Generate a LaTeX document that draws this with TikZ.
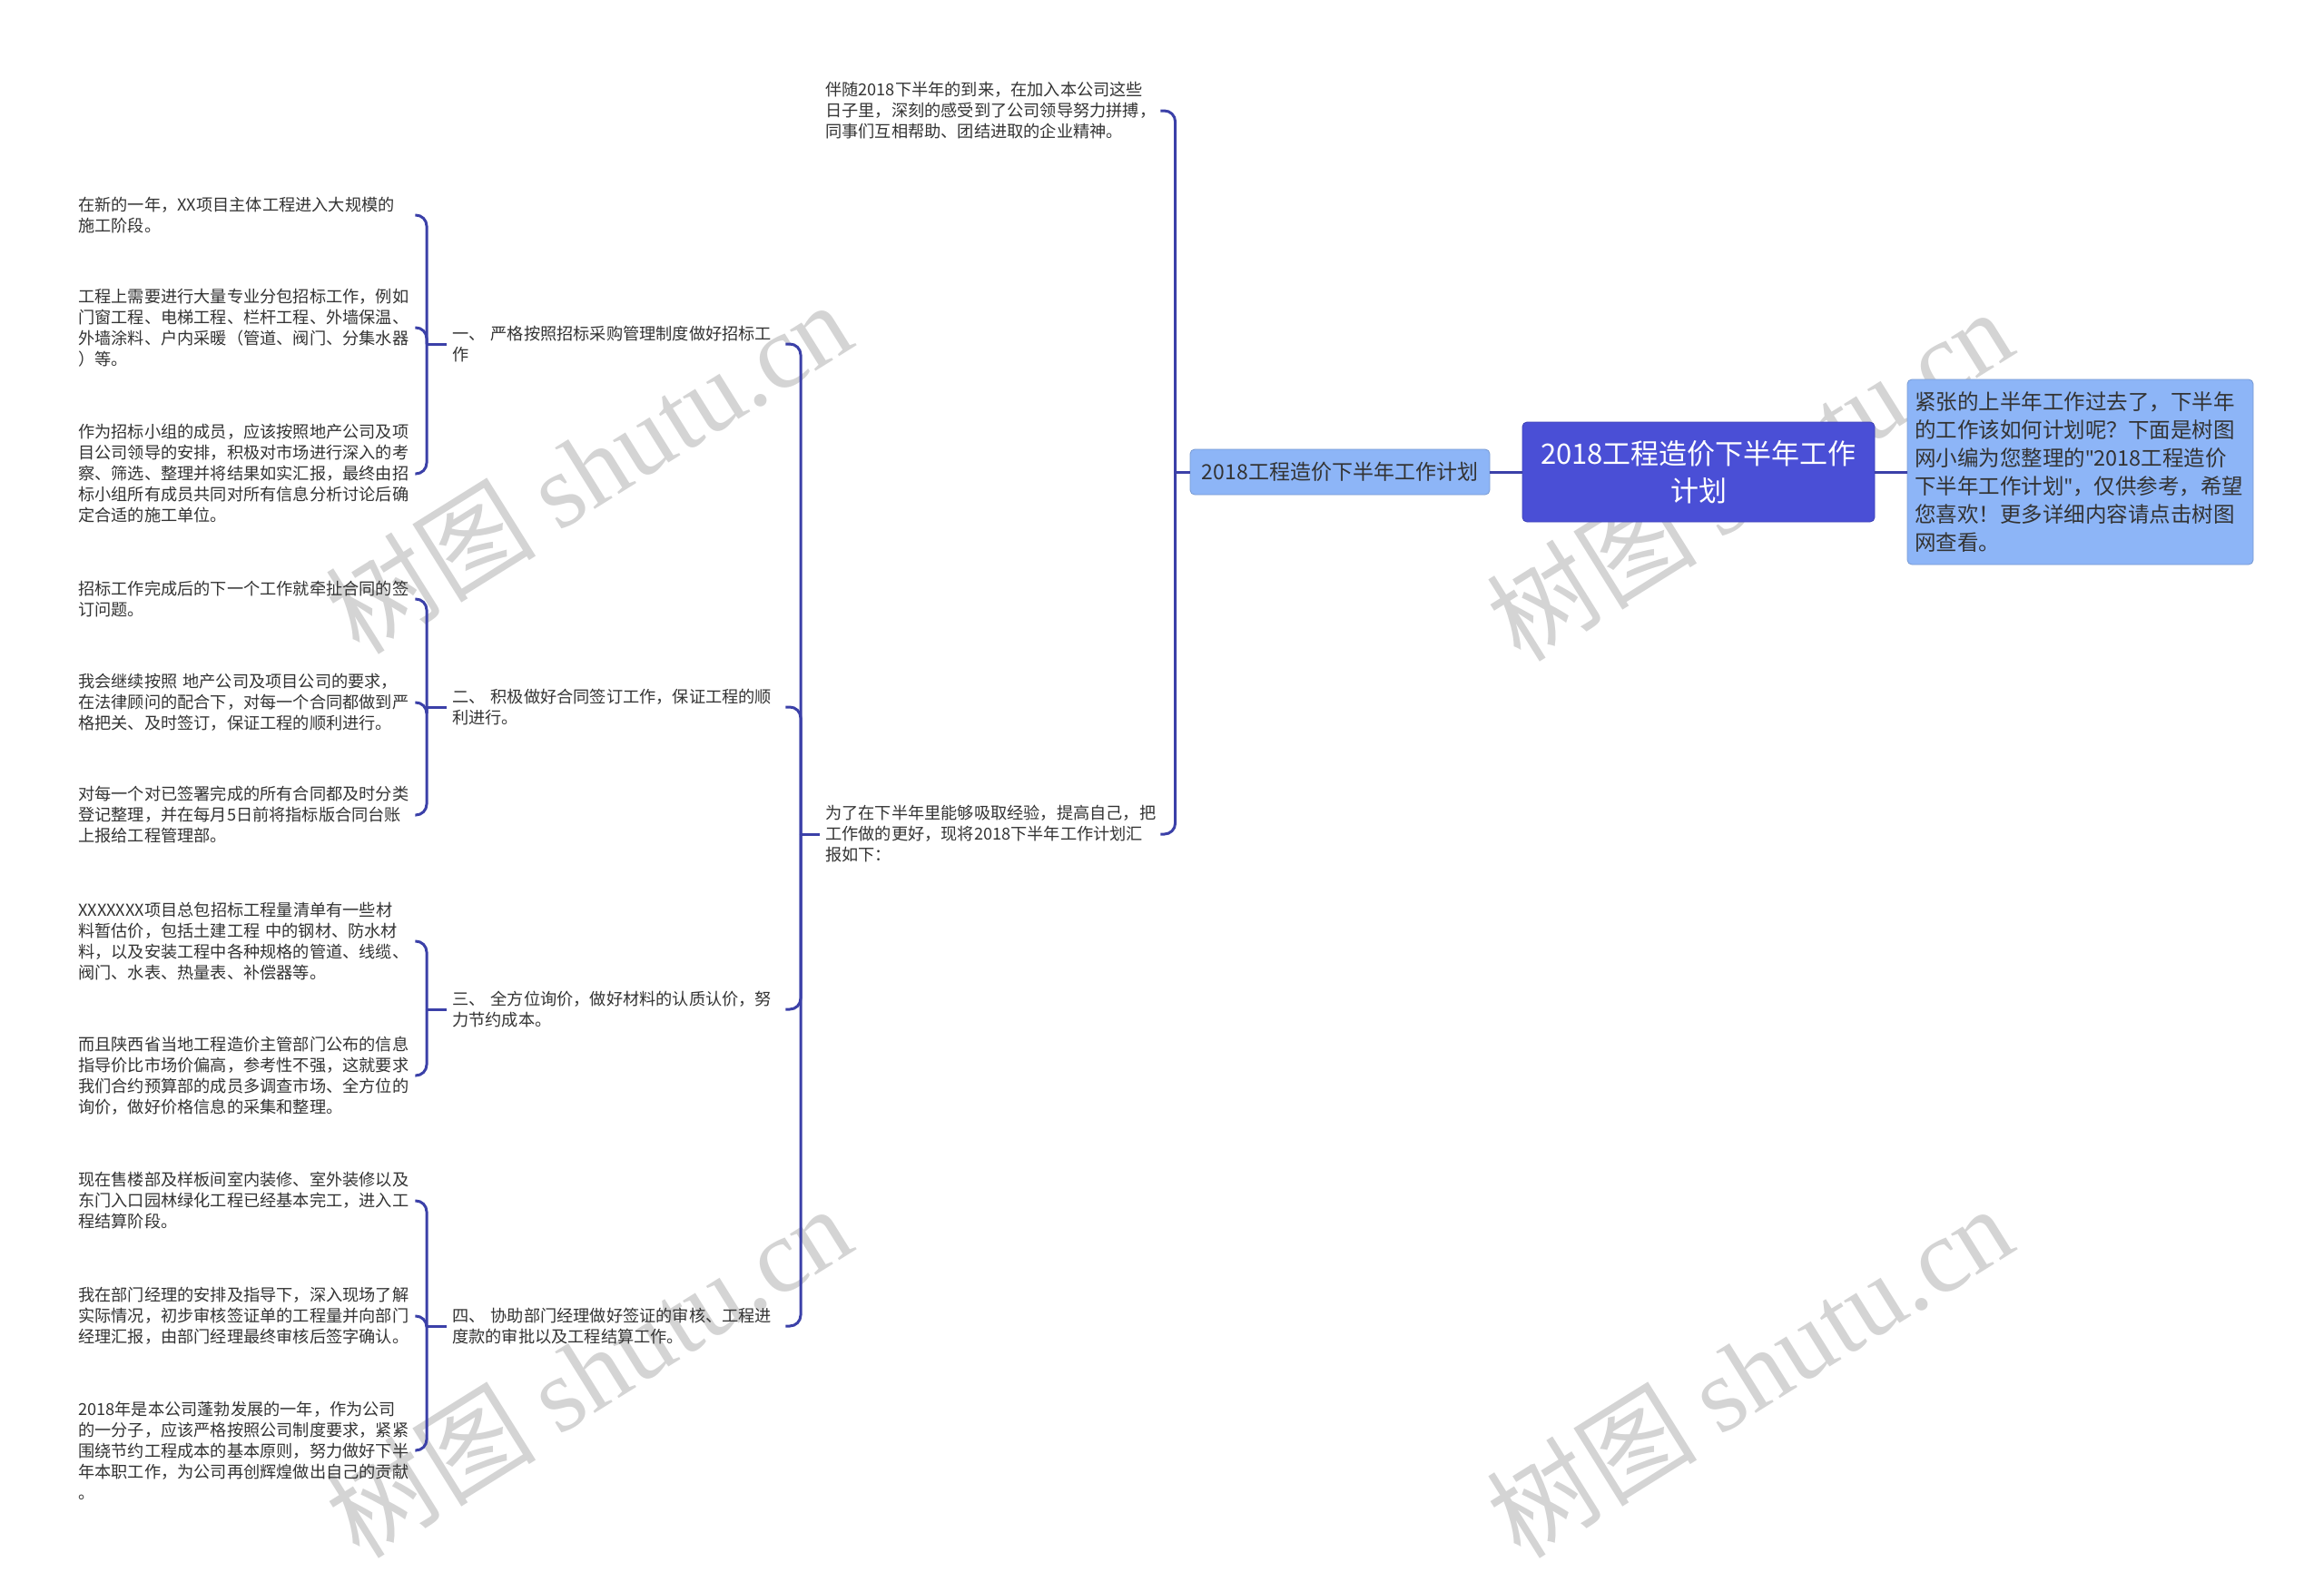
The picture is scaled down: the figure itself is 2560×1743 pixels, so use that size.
\documentclass[tikz,border=0pt]{standalone}
\usepackage{fontspec}
\setmainfont{Noto Sans CJK SC}
\newfontfamily\markfont{Liberation Serif}
\newfontfamily\latinfont{Noto Sans}
\usetikzlibrary{positioning,calc}

\definecolor{rootblue}{HTML}{4A4FD6}
\definecolor{paleblue}{HTML}{8DB5F7}
\definecolor{linkblue}{HTML}{3B40A8}
\definecolor{inkgray}{HTML}{333333}

\newcommand{\qmark}{{\latinfont "}}

\tikzset{
  link/.style={draw=linkblue, line width=3pt},
  leaf/.style={anchor=west, text width=365pt, align=left, inner xsep=6pt, inner ysep=2pt,
    text=inkgray, font=\fontsize{18.2}{23}\selectfont},
  branch/.style={leaf, text width=361pt},
  topic/.style={leaf, text width=363pt},
  plannode/.style={fill=paleblue, draw=paleblue!85!black, line width=0.8pt, rounded corners=5pt,
    minimum width=330pt, minimum height=50pt, inner sep=0pt, text=inkgray, font=\fontsize{23}{28}\selectfont},
  rootnode/.style={fill=rootblue, draw=rootblue!85!black, line width=0.8pt, rounded corners=5pt,
    minimum width=388pt, minimum height=110pt, text width=370pt, align=center, inner sep=0pt,
    text=white, font=\fontsize{31}{41}\selectfont},
  notenode/.style={fill=paleblue, draw=paleblue!85!black, line width=0.8pt, rounded corners=5pt,
    minimum width=381pt, minimum height=204pt, text width=365pt, align=left, inner xsep=8pt,
    text=inkgray, font=\fontsize{23.5}{31}\selectfont},
  wmark/.style={rotate=32, text=black!17, font=\fontsize{116}{120}\selectfont}
}

\begin{document}
\begin{tikzpicture}[x=1pt, y=-1pt]
  \useasboundingbox (0,0) rectangle (2560,1743);

  % watermarks
  \foreach \wx/\wy in {648/514, 648/1510, 1927/522, 1927/1510}
    \node[wmark] at (\wx,\wy) {树图 {\markfont shutu.cn}};

  % centre and right note
  \node[rootnode] (root) at (1871,520) {2018工程造价下半年工作\\计划};
  \node[notenode] (note) at (2291.5,520) {紧张的上半年工作过去了，下半年\\的工作该如何计划呢？下面是树图\\网小编为您整理的\qmark2018工程造价\\下半年工作计划\qmark，仅供参考，希望\\您喜欢！更多详细内容请点击树图\\网查看。};
  \node[plannode] (plan) at (1476,520) {2018工程造价下半年工作计划};

  % second level
  \node[topic] (intro) at (903,122) {伴随2018下半年的到来，在加入本公司这些\\日子里，深刻的感受到了公司领导努力拼搏，\\同事们互相帮助、团结进取的企业精神。};
  \node[topic] (report) at (903,919) {为了在下半年里能够吸取经验，提高自己，把\\工作做的更好，现将2018下半年工作计划汇\\报如下：};

  % sections
  \node[branch] (s1) at (492,379) {一、 严格按照招标采购管理制度做好招标工\\作};
  \node[branch] (s2) at (492,779) {二、 积极做好合同签订工作，保证工程的顺\\利进行。};
  \node[branch] (s3) at (492,1112) {三、 全方位询价，做好材料的认质认价，努\\力节约成本。};
  \node[branch] (s4) at (492,1461) {四、 协助部门经理做好签证的审核、工程进\\度款的审批以及工程结算工作。};

  % leaves of section 1
  \node[leaf] (a1) at (80,237) {在新的一年，XX项目主体工程进入大规模的\\施工阶段。};
  \node[leaf] (a2) at (80,361) {工程上需要进行大量专业分包招标工作，例如\\门窗工程、电梯工程、栏杆工程、外墙保温、\\外墙涂料、户内采暖（管道、阀门、分集水器\\）等。};
  \node[leaf] (a3) at (80,522) {作为招标小组的成员，应该按照地产公司及项\\目公司领导的安排，积极对市场进行深入的考\\察、筛选、整理并将结果如实汇报，最终由招\\标小组所有成员共同对所有信息分析讨论后确\\定合适的施工单位。};

  % leaves of section 2
  \node[leaf] (b1) at (80,660) {招标工作完成后的下一个工作就牵扯合同的签\\订问题。};
  \node[leaf] (b2) at (80,774) {我会继续按照 地产公司及项目公司的要求，\\在法律顾问的配合下，对每一个合同都做到严\\格把关、及时签订，保证工程的顺利进行。};
  \node[leaf] (b3) at (80,898) {对每一个对已签署完成的所有合同都及时分类\\登记整理，并在每月5日前将指标版合同台账\\上报给工程管理部。};

  % leaves of section 3
  \node[leaf] (c1) at (80,1037) {XXXXXXX项目总包招标工程量清单有一些材\\料暂估价，包括土建工程 中的钢材、防水材\\料，以及安装工程中各种规格的管道、线缆、\\阀门、水表、热量表、补偿器等。};
  \node[leaf] (c2) at (80,1185) {而且陕西省当地工程造价主管部门公布的信息\\指导价比市场价偏高，参考性不强，这就要求\\我们合约预算部的成员多调查市场、全方位的\\询价，做好价格信息的采集和整理。};

  % leaves of section 4
  \node[leaf] (d1) at (80,1323) {现在售楼部及样板间室内装修、室外装修以及\\东门入口园林绿化工程已经基本完工，进入工\\程结算阶段。};
  \node[leaf] (d2) at (80,1450) {我在部门经理的安排及指导下，深入现场了解\\实际情况，初步审核签证单的工程量并向部门\\经理汇报，由部门经理最终审核后签字确认。};
  \node[leaf] (d3) at (80,1598) {2018年是本公司蓬勃发展的一年，作为公司\\的一分子，应该严格按照公司制度要求，紧紧\\围绕节约工程成本的基本原则，努力做好下半\\年本职工作，为公司再创辉煌做出自己的贡献\\。};

  % connectors
  \draw[link] (root.east) -- (note.west);
  \draw[link] (root.west) -- (plan.east);

  \coordinate (jplan) at ($(plan.west)+(-16,0)$);
  \draw[link] (plan.west) -- (jplan);
  \foreach \n in {intro,report}
    \draw[link, rounded corners=12pt] (jplan) |- (\n.east);

  \coordinate (jrep) at ($(report.west)+(-21,0)$);
  \draw[link] (report.west) -- (jrep);
  \foreach \n in {s1,s2,s3,s4}
    \draw[link, rounded corners=12pt] (jrep) |- (\n.east);

  % section brackets
  \foreach \s/\kids in {s1/{a1,a2,a3}, s2/{b1,b2,b3}, s3/{c1,c2}, s4/{d1,d2,d3}} {
    \coordinate (j\s) at ($(\s.west)+(-22,0)$);
    \draw[link] (\s.west) -- (j\s);
    \foreach \k in \kids
      \draw[link, rounded corners=12pt] (j\s) |- (\k.east);
  }
\end{tikzpicture}
\end{document}
